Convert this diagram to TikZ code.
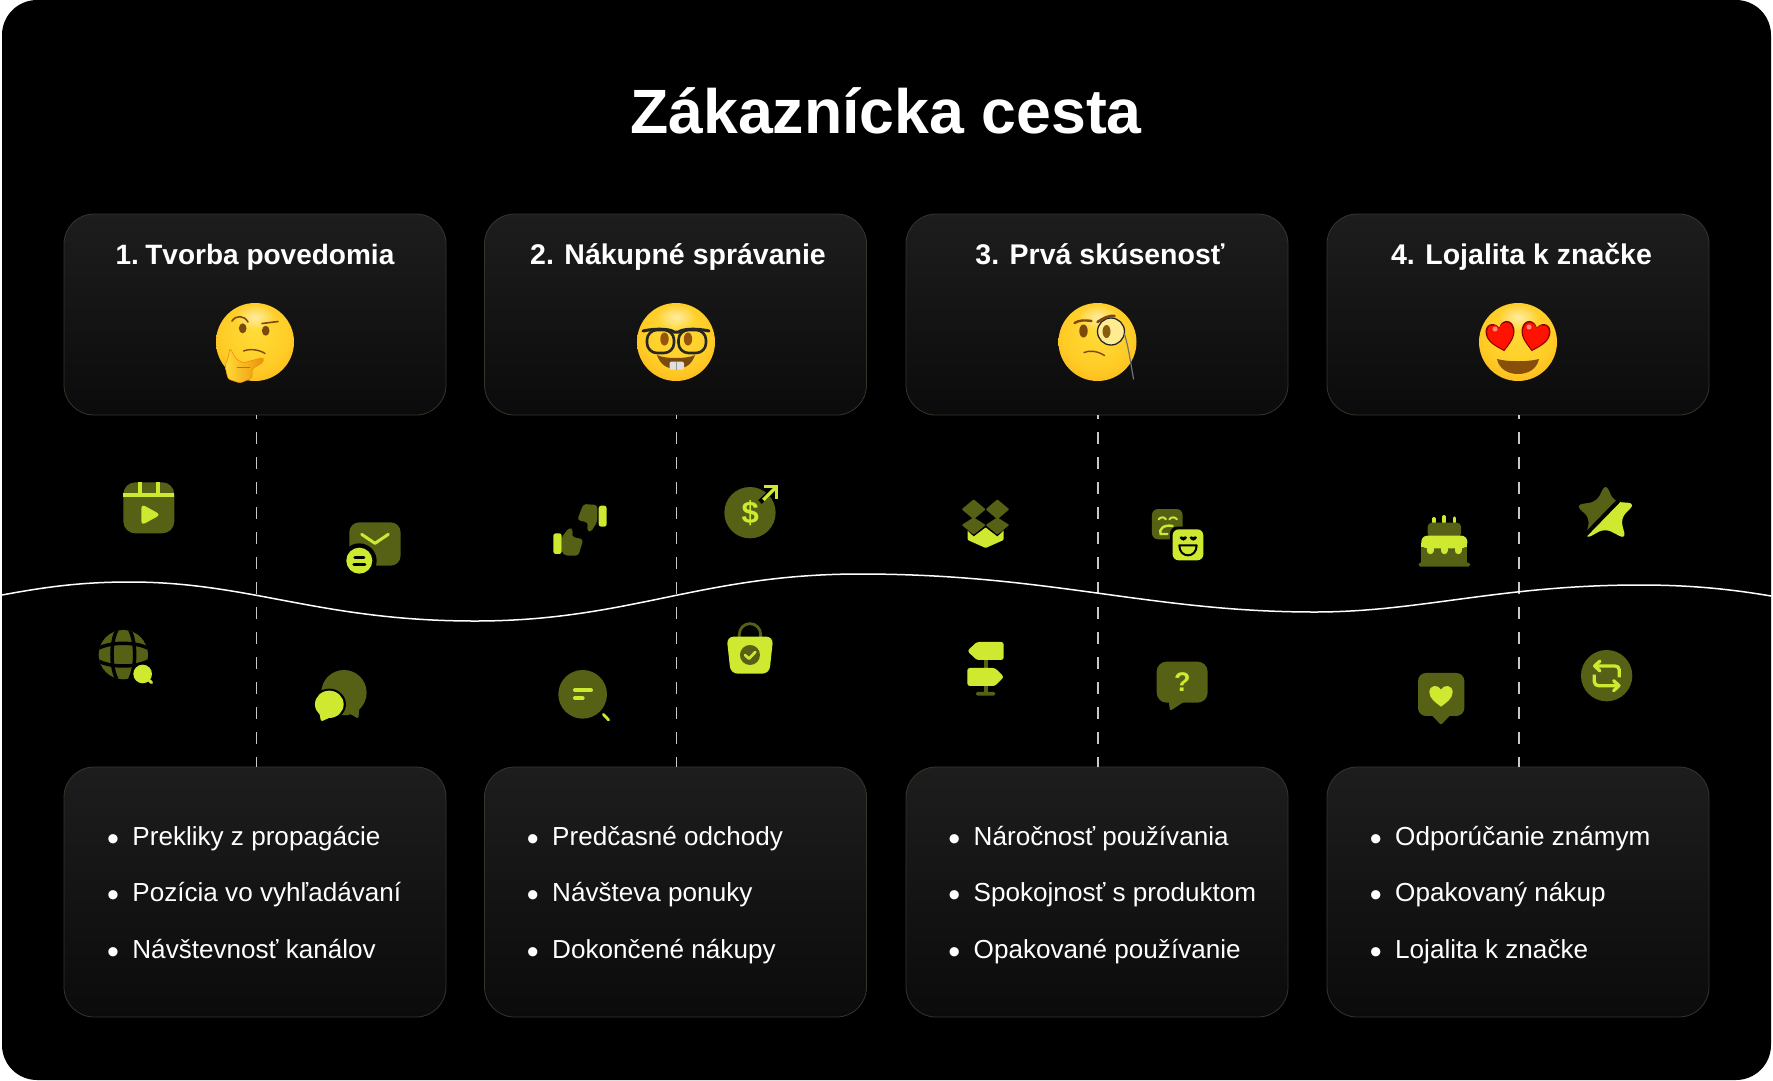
\documentclass[tikz,border=0pt]{standalone}
\usepackage{fontspec}
\usepackage{xcolor}
\usetikzlibrary{positioning,fadings}
\setmainfont{Liberation Sans}

\definecolor{lime}{HTML}{CFE930}
\definecolor{olive}{HTML}{566116}
\definecolor{cardtop}{HTML}{1D1D1D}
\definecolor{cardbot}{HTML}{0B0B0B}
\definecolor{cardline}{HTML}{35362A}
\definecolor{faceA}{HTML}{FFDC38}
\definecolor{faceB}{HTML}{FFCC26}
\definecolor{faceC}{HTML}{F8AA16}
\definecolor{faceD}{HTML}{EC900A}
\definecolor{hnedy}{HTML}{7A4A0C}

\pgfdeclareradialshading{faceshade}{\pgfpoint{0bp}{8bp}}{color(0bp)=(faceA); color(22bp)=(faceB); color(40bp)=(faceC); color(50bp)=(faceD); color(60bp)=(faceD)}
\tikzfading[name=glowfade, inner color=transparent!45, outer color=transparent!100]

\newcommand{\polozka}[1]{\llap{\raisebox{-5pt}{\fontsize{34}{34}\selectfont •}\hspace{13.4pt}}#1}
\newcommand{\srdce}[6][0]{\fill[#2,shift={(#3,#4)},rotate=#1,xscale=#5,yscale=#6] (0,-.55) .. controls (.25,-1.05) and (1,-1) .. (1,-.3) .. controls (1,.3) and (.35,.7) .. (0,1) .. controls (-.35,.7) and (-1,.3) .. (-1,-.3) .. controls (-1,-1) and (-.25,-1.05) .. (0,-.55) -- cycle;}
\newcommand{\tvar}{
	\shade[shading=faceshade] (0,0) circle (39);
	\fill[white,path fading=glowfade] (0,-25) ellipse (20 and 13);
}

\tikzset{
	card/.style={draw=cardline,line width=.8pt,rounded corners=30pt,top color=cardtop,bottom color=cardbot,minimum width=382pt,inner sep=0pt},
	headtext/.style={text=white,font=\fontsize{28.5}{32}\selectfont\bfseries,inner sep=0pt,anchor=base},
	itemtext/.style={text=white,font=\fontsize{26.1}{30}\selectfont,inner sep=0pt,anchor=base west},
	cesta/.style={draw=white!78!black,line width=1.5pt,dash pattern=on 12pt off 13pt,dash phase=8.4pt},
	zoomA/.style={shift={(60,450)},x=.3333pt,y=-.3333pt},
	zoomB/.style={shift={(500,450)},x=.3333pt,y=-.3333pt},
	zoomC/.style={shift={(920,450)},x=.3333pt,y=-.3333pt},
	zoomD/.style={shift={(1380,450)},x=.3333pt,y=-.3333pt},
	ikona/.style={text=lime,font=\bfseries,inner sep=0pt}
}

\begin{document}
\begin{tikzpicture}[x=1pt,y=-1pt]
	\useasboundingbox (0,0) rectangle (1773,1080);
	\fill[white] (0,0) rectangle (1773,1080);
	\fill[black,rounded corners=35pt] (2,0) rectangle (1771,1080);

	\node[text=white,font=\fontsize{62.6}{70}\selectfont\bfseries,inner sep=0pt,anchor=base] (titulok) at (886,133) {Zákaznícka cesta};

	% horne karty
	\node[card,minimum height=201pt] (top1) at (255,314.5) {};
	\node[card,minimum height=201pt] (top2) at (675.5,314.5) {};
	\node[card,minimum height=201pt] (top3) at (1097,314.5) {};
	\node[card,minimum height=201pt] (top4) at (1518,314.5) {};
	% dolne karty
	\node[card,minimum height=250pt] (bot1) at (255,892) {};
	\node[card,minimum height=250pt] (bot2) at (675.5,892) {};
	\node[card,minimum height=250pt] (bot3) at (1097,892) {};
	\node[card,minimum height=250pt] (bot4) at (1518,892) {};

	\draw[cesta] ([xshift=1.5pt]top1.south) -- ([xshift=1.5pt]bot1.north);
	\draw[cesta] ([xshift=1pt]top2.south) -- ([xshift=1pt]bot2.north);
	\draw[cesta] ([xshift=1pt]top3.south) -- ([xshift=1pt]bot3.north);
	\draw[cesta] ([xshift=1pt]top4.south) -- ([xshift=1pt]bot4.north);

	\draw[white,line width=1.5pt] (2,595) .. controls (50,586) and (85,582) .. (130,582) .. controls (250,582) and (320,621) .. (475,621) .. controls (630,621) and (700,574) .. (860,574) .. controls (1050,574) and (1150,612) .. (1315,612) .. controls (1420,612) and (1500,585) .. (1640,585) .. controls (1690,585) and (1730,589) .. (1771,596);

	\node[headtext,font=\fontsize{28}{32}\selectfont\bfseries] (head1) at (255,264) {1.\kern-4pt{} Tvorba povedomia};
	\node[headtext] (head2) at (678,264) {2. Nákupné správanie};
	\node[headtext] (head3) at (1100,264) {3. Prvá skúsenosť};
	\node[headtext] (head4) at (1521.5,264) {4. Lojalita k značke};

	\node[itemtext] (a1) at (132.2,845) {\polozka{Prekliky z propagácie}};
	\node[itemtext] (a2) at (132.2,901.5) {\polozka{Pozícia vo vyhľadávaní}};
	\node[itemtext] (a3) at (132.2,958) {\polozka{Návštevnosť kanálov}};
	\node[itemtext] (b1) at (552,845) {\polozka{Predčasné odchody}};
	\node[itemtext] (b2) at (552,901.5) {\polozka{Návšteva ponuky}};
	\node[itemtext] (b3) at (552,958) {\polozka{Dokončené nákupy}};
	\node[itemtext] (c1) at (973.5,845) {\polozka{Náročnosť používania}};
	\node[itemtext] (c2) at (973.5,901.5) {\polozka{Spokojnosť s produktom}};
	\node[itemtext] (c3) at (973.5,958) {\polozka{Opakované používanie}};
	\node[itemtext] (d1) at (1395,845) {\polozka{Odporúčanie známym}};
	\node[itemtext] (d2) at (1395,901.5) {\polozka{Opakovaný nákup}};
	\node[itemtext] (d3) at (1395,958) {\polozka{Lojalita k značke}};

	% emoji 1
	\begin{scope}[shift={(255,342)}]
		\tvar
		\draw[hnedy,line width=1.6pt,line cap=round] (-23,-21) .. controls (-19,-27) and (-11,-27) .. (-7,-20);
		\draw[hnedy,line width=1.6pt,line cap=round] (7,-18.5) -- (23,-20.5);
		\fill[hnedy] (-12.3,-13.7) ellipse (3.8 and 5);
		\fill[hnedy] (10.7,-11.3) ellipse (3.8 and 5);
		\draw[hnedy,line width=1.4pt,line cap=round] (-11.5,9) .. controls (-5,6.5) and (4,7.5) .. (10,11.5);
		\shade[left color=faceA,right color=faceD,draw=faceD,line width=.6pt,rounded corners=2.5pt] (-25,6) -- (-19,17) -- (-12,21) -- (8,15.5) -- (8.5,20) -- (-3,27) -- (-3,36) -- (-15,41) -- (-27,37) -- (-30,24) -- (-27,16) -- cycle;
		\draw[faceD!80!black,line width=.8pt,line cap=round] (-18,25) -- (-5,25);
	\end{scope}
	% emoji 2
	\begin{scope}[shift={(676,342)}]
		\tvar
		\fill[hnedy!80!orange] (-11.5,-3) ellipse (4.2 and 6.5);
		\fill[hnedy!80!orange] (12,-3) ellipse (4.2 and 6.5);
		\draw[black!85,line width=2.6pt,rounded corners=10pt] (-29,-12) rectangle (-2,11);
		\draw[black!85,line width=2.6pt,rounded corners=10pt] (2.5,-12) rectangle (30,11);
		\draw[black!85,line width=3pt,line cap=round] (-33,-11) .. controls (-20,-14) and (-5,-13) .. (-2,-10) -- (2.5,-10) .. controls (6,-13) and (20,-14) .. (33,-11);
		\fill[hnedy] (-19,13) .. controls (-12,17) and (12,17) .. (19,13) .. controls (16,23) and (8,27) .. (0,27) .. controls (-8,27) and (-16,23) .. (-19,13) -- cycle;
		\fill[white!88!black,rounded corners=1.5pt] (-6.5,19.5) rectangle (8,27.5);
		\draw[black!40,line width=.6pt] (.7,19.5) -- (.7,27.5);
	\end{scope}
	% emoji 3
	\begin{scope}[shift={(1097.5,342)}]
		\tvar
		\fill[hnedy] (-14,-11) ellipse (4.2 and 6.5);
		\draw[hnedy,line width=2.4pt,line cap=round] (-23,-19) .. controls (-18,-22) and (-13,-22) .. (-6,-21);
		\fill[faceA!55!white] (13.5,-10.5) circle (13.5);
		\fill[black!45!faceC] (9,-10.5) ellipse (4 and 6.5);
		\draw[black!85,line width=1.3pt] (13.5,-10.5) circle (13.5);
		\draw[hnedy,line width=2.6pt,line cap=round] (0,-20) .. controls (6,-24) and (12,-27) .. (17,-26);
		\draw[hnedy,line width=1.4pt,line cap=round] (-13.5,10.5) .. controls (-8,8) and (0,9) .. (7,13.5);
		\draw[black!55,line width=1.2pt,line cap=round] (27,-8) .. controls (31,5) and (33,20) .. (36,37);
	\end{scope}
	% emoji 4
	\begin{scope}[shift={(1518,342)}]
		\tvar
		\srdce[12]{black!45!red}{-17}{-6}{14.5}{15.5}
		\srdce[-12]{black!45!red}{17}{-6}{14.5}{15.5}
		\srdce[12]{red!85!orange}{-17}{-6}{13}{14}
		\srdce[-12]{red!85!orange}{17}{-6}{13}{14}
		\fill[white,opacity=.5] (-23,-13) circle (2.5);
		\fill[white,opacity=.5] (11,-15) circle (2.5);
		\fill[hnedy!90!orange] (-21,17) .. controls (-10,20) and (10,20) .. (21,17) .. controls (19,27) and (10,32) .. (0,32) .. controls (-10,32) and (-19,27) .. (-21,17) -- cycle;
	\end{scope}

	% ikony 1
	\begin{scope}[zoomA]
		\fill[olive,rounded corners=12pt] (190,97) rectangle (343,250);
		\fill[lime] (190,130) rectangle (343,142);
		\fill[lime] (234,97) rectangle (246,130);
		\fill[lime] (288,97) rectangle (300,130);
		\fill[lime,rounded corners=4pt] (244,162) -- (302,194) -- (244,226) -- cycle;
		\fill[olive,rounded corners=10pt] (868,217) rectangle (1022,347);
		\fill[black] (898,332) circle (52);
		\fill[lime] (898,332) circle (39);
		\draw[lime,line width=3pt,line cap=round,line join=round] (905,253) -- (945,280) -- (985,253);
		\draw[black,line width=3pt,line cap=round] (885,322) -- (912,322);
		\draw[black,line width=3pt,line cap=round] (882,343) -- (915,343);
		\begin{scope}
			\clip (190,614) circle (74);
			\fill[olive] (190,614) circle (74);
			\draw[black,line width=3.5pt] (190,614) ellipse (34 and 90);
			\draw[black,line width=3.5pt] (190,614) ellipse (90 and 34);
		\end{scope}
		\fill[black] (248,672) circle (36);
		\fill[lime] (248,672) circle (28);
		\draw[lime,line width=3pt,line cap=round] (262,686) -- (275,698);
		\fill[olive] (852,728) circle (68);
		\fill[olive,rounded corners=1.5pt] (850,780) -- (895,806) -- (900,760) -- cycle;
		\fill[black] (808,763) ellipse (50 and 47);
		\fill[black] (770,790) -- (778,822) -- (820,800) -- cycle;
		\fill[lime] (808,763) ellipse (43 and 41);
		\fill[lime,rounded corners=1.5pt] (778,785) -- (783,815) -- (820,798) -- cycle;
	\end{scope}

	% ikony 2
	\begin{scope}[zoomB]
		\fill[olive,rounded corners=3pt] (232,210) -- (250,162) -- (292,165) -- (292,215) -- (272,247) -- (260,240) -- (265,218) -- cycle;
		\fill[lime,rounded corners=2.5pt] (296,167) rectangle (320,230);
		\fill[olive,rounded corners=3pt] (185,262) -- (208,232) -- (220,240) -- (215,260) -- (250,268) -- (235,317) -- (195,317) -- (185,305) -- cycle;
		\fill[lime,rounded corners=2.5pt] (160,250) rectangle (185,312);
		\fill[olive] (750,188) circle (77);
		\draw[black,line width=5pt] (780,156) -- (820,118);
		\draw[lime,line width=3.3pt] (790,150) -- (828,112);
		\draw[lime,line width=3.3pt] (792,110) -- (830,110) -- (830,148);
		\node[ikona,font=\fontsize{31}{34}\selectfont\bfseries] (dolar) at (751,189) {\$};
		\fill[olive] (248,733) circle (73);
		\draw[lime,line width=4pt,line cap=round] (225,721) -- (273,721);
		\draw[lime,line width=4pt,line cap=round] (225,745) -- (248,745);
		\draw[lime,line width=2.8pt,line cap=round] (310,793) -- (326,810);
		\draw[olive,line width=2.8pt] (718,575) -- (718,553) arc (180:360:32) -- (782,575);
		\fill[lime,rounded corners=7pt] (680,560) -- (820,560) -- (808,671) -- (692,671) -- cycle;
		\fill[olive] (750,615) circle (30);
		\draw[lime,line width=2.7pt,line cap=round,line join=round] (735,615) -- (747,626) -- (766,606);
	\end{scope}

	% ikony 3
	\begin{scope}[zoomC]
		\fill[lime,rounded corners=1pt] (143,232) -- (251,232) -- (251,270) -- (197,294) -- (143,270) -- cycle;
		\fill[black] (125,225) -- (161,196) -- (197,225) -- (232,196) -- (268,225) -- (232,259) -- (197,232) -- (161,259) -- cycle;
		\fill[olive,rounded corners=1pt] (125,178) -- (161,148) -- (197,178) -- (161,208) -- cycle;
		\fill[olive,rounded corners=1pt] (197,178) -- (232,148) -- (268,178) -- (232,208) -- cycle;
		\fill[olive,rounded corners=1pt] (125,225) -- (161,202) -- (197,225) -- (161,254) -- cycle;
		\fill[olive,rounded corners=1pt] (197,225) -- (232,202) -- (268,225) -- (232,254) -- cycle;
		\fill[olive,rounded corners=6pt] (696,177) rectangle (788,268);
		\draw[lime,line width=2pt,line cap=round] (716,208) .. controls (722,200) and (732,200) .. (738,208);
		\draw[lime,line width=2pt,line cap=round] (748,208) .. controls (754,200) and (764,200) .. (771,208);
		\draw[lime,line width=2.4pt,line cap=round] (758,228) .. controls (730,222) and (715,240) .. (722,252) -- (742,252);
		\fill[black,rounded corners=7pt] (750,230) rectangle (858,339);
		\fill[lime,rounded corners=6pt] (758,238) rectangle (850,331);
		\srdce{black}{790}{265}{11}{7}
		\srdce{black}{820}{265}{11}{7}
		\draw[black,line width=2pt,line join=round] (778,286) -- (830,286) .. controls (830,305) and (818,316) .. (804,316) .. controls (790,316) and (778,305) .. (778,286) -- cycle;
		\fill[olive] (191,628) rectangle (203,735);
		\fill[olive,rounded corners=1.5pt] (168,726) rectangle (226,737);
		\fill[lime,rounded corners=2.5pt] (142,603) -- (170,576) -- (251,576) -- (251,630) -- (170,630) -- cycle;
		\fill[lime,rounded corners=2.5pt] (142,654) -- (225,654) -- (252,681) -- (225,708) -- (142,708) -- cycle;
		\fill[olive,rounded corners=1.5pt] (745,745) -- (750,783) -- (800,750) -- cycle;
		\fill[olive,rounded corners=10pt] (710,635) rectangle (863,758);
		\node[ikona,font=\fontsize{27}{30}\selectfont\bfseries] (otaznik) at (787,697) {?};
	\end{scope}

	% ikony 4
	\begin{scope}[zoomD]
		\draw[lime,line width=3.2pt,line cap=round] (162,206) -- (162,216);
		\draw[lime,line width=3.2pt,line cap=round] (192,200) -- (192,216);
		\draw[lime,line width=3.2pt,line cap=round] (224,204) -- (224,216);
		\fill[olive,rounded corners=4pt] (143,218) -- (243,218) -- (243,262) -- (143,262) -- cycle;
		\fill[olive] (124,280) rectangle (262,340);
		\fill[olive,rounded corners=1.5pt] (116,338) rectangle (270,350);
		\fill[lime,rounded corners=6pt] (124,295) -- (124,257) -- (262,257) -- (262,295) -- cycle;
		\fill[lime] (124,280) rectangle (262,290);
		\draw[lime,line width=7pt,line cap=round] (150,288) -- (150,302);
		\draw[lime,line width=7pt,line cap=round] (192,288) -- (192,302);
		\draw[lime,line width=7pt,line cap=round] (234,288) -- (234,302);
		\fill[olive,rounded corners=2pt] (150,790) -- (183,825) -- (216,790) -- cycle;
		\fill[olive,rounded corners=8pt] (114,669) rectangle (253,798);
		\srdce{lime}{183}{737}{35}{33}
		\fill[olive] (680,677) circle (77);
		\draw[lime,line width=3.3pt,line join=round] (718,682) -- (718,660) .. controls (718,652) and (712,648) .. (705,648) -- (646,648);
		\draw[lime,line width=3.3pt,line join=round,line cap=round] (660,633) -- (644,648) -- (660,663);
		\draw[lime,line width=3.3pt,line join=round] (643,674) -- (643,695) .. controls (643,703) and (649,707) .. (656,707) -- (715,707);
		\draw[lime,line width=3.3pt,line join=round,line cap=round] (701,692) -- (717,707) -- (701,722);
		\begin{scope}
			\clip (560,100) -- (760,100) -- (560,310) -- cycle;
			\fill[olive,rounded corners=7pt] (677,100) -- (702,155) -- (766,160) -- (722,205) -- (738,268) -- (675,235) -- (615,268) -- (630,205) -- (586,165) -- (650,155) -- cycle;
		\end{scope}
		\begin{scope}
			\clip (760,100) -- (790,100) -- (790,310) -- (560,310) -- cycle;
			\fill[lime,rounded corners=7pt] (677,100) -- (702,155) -- (766,160) -- (722,205) -- (738,268) -- (675,235) -- (615,268) -- (630,205) -- (586,165) -- (650,155) -- cycle;
		\end{scope}
		\draw[black,line width=4pt] (722,146) -- (615,256);
	\end{scope}
\end{tikzpicture}
\end{document}
